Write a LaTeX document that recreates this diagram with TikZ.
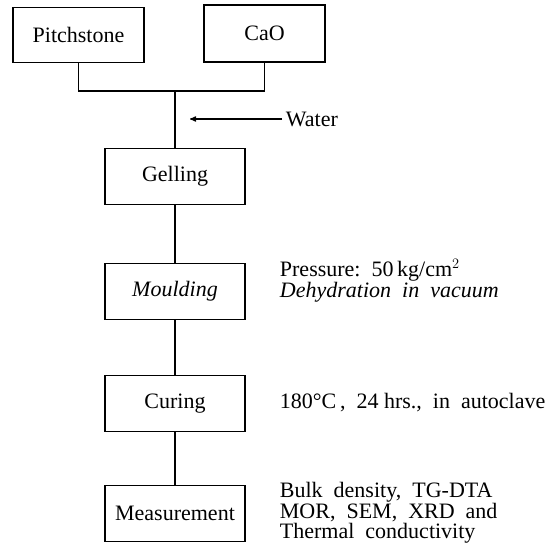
\documentclass[tikz,border=0pt]{standalone}
\usepackage{fontspec}
\setmainfont{Liberation Serif}
\usetikzlibrary{arrows}
\begin{document}
\begin{tikzpicture}[x=1pt,y=-1pt,line width=1.2pt,
  every node/.style={font=\fontsize{22}{20}\selectfont},
  box/.style={draw,minimum width=140pt,minimum height=56pt},
  note/.style={anchor=west,align=left}]
  \useasboundingbox (0,0) rectangle (549,553);
  \node[box,minimum width=131pt,minimum height=55pt] (pitch) at (78.5,35) {Pitchstone};
  \node[box,minimum width=121pt,minimum height=57pt] (cao) at (264.5,33.5) {CaO};
  \node[box] (gel) at (175,176.5) {Gelling};
  \node[box] (mould) at (175,291.5) {\textit{Moulding}};
  \node[box] (cur) at (175,403.5) {Curing};
  \node[box] (meas) at (175,513.5) {Measurement};

  \coordinate (mix) at (175,91);
  \coordinate (wend) at (190,119);
  \node[note] (water) at (282,119) {Water};

  \node[note] (mouldnote) at (276,281) {Pressure:\ \ 50\,kg/cm$^2$\\\textit{Dehydration\ \ in\ \ vacuum}};
  \node[note] (curnote) at (276,403) {180°C\,,\ \ 24 hrs.,\ \ in\ \ autoclave};
  \node[note] (measnote) at (276,513) {Bulk\ \ density,\ \ TG-DTA\\MOR,\ \ SEM,\ \ XRD\ \ and\\Thermal\ \ conductivity};

  \draw (pitch) |- (mix) -| (cao);
  \draw (mix) -- (gel);
  \draw[->,>=stealth'] (water) -- (wend);
  \draw (gel) -- (mould);
  \draw (mould) -- (cur);
  \draw (cur) -- (meas);
\end{tikzpicture}
\end{document}
